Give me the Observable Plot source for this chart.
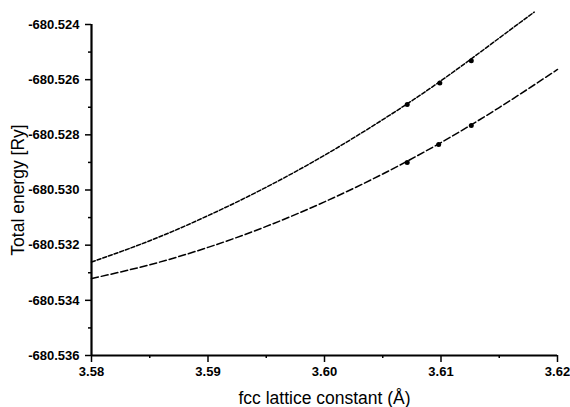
<!DOCTYPE html>
<html>
<head>
<meta charset="utf-8">
<script src="https://cdn.jsdelivr.net/npm/d3@7"></script>
<script src="https://cdn.jsdelivr.net/npm/@observablehq/plot@0.6"></script>
<style>
  html, body { margin: 0; padding: 0; background: #fff; }
  #chart { width: 570px; height: 407px; }
</style>
</head>
<body>
<div id="chart"></div>
<script>
// Upper curve (short dashes)
const upperX = [3.580, 3.585, 3.590, 3.595, 3.600, 3.605, 3.610, 3.615, 3.618];
const upperE = [-680.53261, -680.53184, -680.53093, -680.52990, -680.52874, -680.52745, -680.52604, -680.52449, -680.52355];
// Lower curve (long dashes)
const lowerX = [3.580, 3.585, 3.590, 3.595, 3.600, 3.605, 3.610, 3.615, 3.620];
const lowerE = [-680.53321, -680.53271, -680.53208, -680.53132, -680.53043, -680.52942, -680.52828, -680.52701, -680.52563];
// Calculated points
const upperDotX = [3.6071, 3.6099, 3.6126];
const upperDotE = [-680.52690, -680.52612, -680.52531];
const lowerDotX = [3.6071, 3.6098, 3.6126];
const lowerDotE = [-680.52900, -680.52835, -680.52766];
// Ticks
const xTicks = [3.58, 3.59, 3.60, 3.61, 3.62];
const xTickLabels = ["3.58", "3.59", "3.60", "3.61", "3.62"];
const xMinorTicks = [3.585, 3.595, 3.605, 3.615];
const yTicks = [-680.536, -680.534, -680.532, -680.530, -680.528, -680.526, -680.524];
const yTickLabels = ["-680.536", "-680.534", "-680.532", "-680.530", "-680.528", "-680.526", "-680.524"];
const yMinorTicks = [-680.535, -680.533, -680.531, -680.529, -680.527, -680.525];
const xTitle = "fcc lattice constant (Å)";
const yTitle = "Total energy [Ry]";

const upper = upperX.map((x, i) => ({x, y: upperE[i]}));
const lower = lowerX.map((x, i) => ({x, y: lowerE[i]}));
const dots = upperDotX.map((x, i) => ({x, y: upperDotE[i]}))
  .concat(lowerDotX.map((x, i) => ({x, y: lowerDotE[i]})));

const chart = Plot.plot({
  width: 570,
  height: 407,
  marginLeft: 91,
  marginRight: 13,
  marginTop: 24,
  marginBottom: 52,
  style: {fontFamily: "'Liberation Sans', Arial, sans-serif", color: "#000", background: "#fff"},
  x: {domain: [3.58, 3.62]},
  y: {domain: [-680.536, -680.524]},
  marks: [
    Plot.axisY(yTicks, {tickSize: 6, tickPadding: 6, strokeWidth: 1.5, fontSize: 13, fontWeight: "bold",
      tickFormat: (d, i) => yTickLabels[i], label: null}),
    Plot.axisY(yMinorTicks, {tickSize: 3, strokeWidth: 1.5, tickFormat: () => "", label: null}),
    Plot.axisX(xTicks, {tickSize: 7, tickPadding: 4, strokeWidth: 1.5, fontSize: 13, fontWeight: "bold",
      tickFormat: (d, i) => xTickLabels[i], label: null}),
    Plot.axisX(xMinorTicks, {tickSize: 3, strokeWidth: 1.5, tickFormat: () => "", label: null}),
    Plot.ruleX([3.58], {strokeWidth: 2.2, stroke: "#000"}),
    Plot.ruleY([-680.536], {strokeWidth: 2.2, stroke: "#000"}),
    Plot.line(upper, {x: "x", y: "y", curve: "natural", stroke: "#000", strokeWidth: 1.5, strokeDasharray: "4,2"}),
    Plot.line(lower, {x: "x", y: "y", curve: "natural", stroke: "#000", strokeWidth: 1.5, strokeDasharray: "7,3"}),
    Plot.dot(dots, {x: "x", y: "y", r: 2.5, fill: "#000", stroke: null}),
    Plot.text([xTitle], {frameAnchor: "bottom", dy: 43, fontSize: 17.5, fill: "#000", textAnchor: "middle", lineAnchor: "middle"}),
    Plot.text([yTitle], {frameAnchor: "left", dx: -73, rotate: -90, fontSize: 17.5, fill: "#000", textAnchor: "middle", lineAnchor: "middle"})
  ]
});
document.getElementById("chart").appendChild(chart);
</script>
</body>
</html>
